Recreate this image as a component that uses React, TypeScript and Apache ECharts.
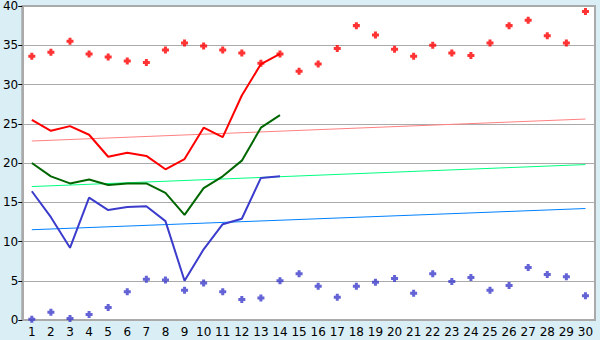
import React, { useEffect, useRef } from "react";
import * as echarts from "echarts";

const categories = Array.from({ length: 30 }, (_, i) => String(i + 1));

const redLine = [25.5, 24.1, 24.7, 23.6, 20.8, 21.3, 20.9, 19.2, 20.5, 24.5, 23.3, 28.6, 32.6, 33.9];
const greenLine = [20.0, 18.3, 17.4, 17.9, 17.2, 17.4, 17.4, 16.2, 13.4, 16.8, 18.3, 20.3, 24.5, 26.1];
const blueLine = [16.4, 13.1, 9.2, 15.6, 14.0, 14.4, 14.5, 12.6, 5.0, 9.0, 12.2, 12.9, 18.1, 18.3];

const redPoints = [33.6, 34.1, 35.5, 33.9, 33.5, 33.0, 32.8, 34.4, 35.3, 34.9, 34.4, 34.0, 32.7, 33.9, 31.7,
  32.6, 34.6, 37.5, 36.3, 34.5, 33.6, 35.0, 34.0, 33.7, 35.3, 37.5, 38.2, 36.2, 35.3, 39.3];
const bluePoints = [0.1, 1.0, 0.2, 0.7, 1.6, 3.6, 5.2, 5.1, 3.8, 4.7, 3.6, 2.6, 2.8, 5.0, 5.9,
  4.3, 2.9, 4.3, 4.8, 5.3, 3.4, 5.9, 4.9, 5.4, 3.8, 4.4, 6.7, 5.8, 5.5, 3.1];

// trend line end values (first and last category)
const redTrend = [22.8, 25.6];
const greenTrend = [17.0, 19.8];
const blueTrend = [11.5, 14.2];

const trendData = (ends: number[]) =>
  categories.map((_, i) => (i === 0 ? ends[0] : i === categories.length - 1 ? ends[1] : null));

const plusSymbol = "path://M2,0H5V2H7V5H5V7H2V5H0V2H2Z";

export default function App() {
  const ref = useRef<HTMLDivElement>(null);
  useEffect(() => {
    document.body.style.margin = "0";
    const chart = echarts.init(ref.current!, null, { renderer: "svg" });
    const lineSeries = (data: number[], color: string) => ({
      type: "line",
      data,
      symbol: "none",
      lineStyle: { color, width: 2 },
      itemStyle: { color },
      z: 3,
    });
    const trendSeries = (ends: number[], color: string) => ({
      type: "line",
      data: trendData(ends),
      connectNulls: true,
      symbol: "none",
      lineStyle: { color, width: 1 },
      itemStyle: { color },
      z: 2,
    });
    const scatterSeries = (data: number[], color: string) => ({
      type: "scatter",
      data,
      symbol: plusSymbol,
      symbolSize: 7,
      itemStyle: { color },
      z: 4,
    });
    chart.setOption({
      animation: false,
      backgroundColor: "#D9EEF5",
      textStyle: { fontFamily: "DejaVu Sans" },
      grid: {
        left: 20,
        right: 5,
        top: 5,
        bottom: 20,
        show: true,
        backgroundColor: "#FFFFFF",
        borderColor: "#AAAAAA",
        borderWidth: 2,
      },
      xAxis: {
        type: "category",
        data: categories,
        boundaryGap: true,
        axisLine: { lineStyle: { color: "#AAAAAA", width: 2 } },
        axisTick: { alignWithLabel: true, length: 5, lineStyle: { color: "#000000" } },
        axisLabel: { color: "#000000", fontSize: 12, margin: 6, interval: 0 },
        splitLine: { show: false },
      },
      yAxis: {
        type: "value",
        min: 0,
        max: 40,
        interval: 5,
        axisLine: { show: true, lineStyle: { color: "#AAAAAA", width: 2 } },
        axisTick: { show: true, length: 4, lineStyle: { color: "#000000" } },
        axisLabel: { color: "#000000", fontSize: 12, margin: 4 },
        splitLine: { lineStyle: { color: "#AAAAAA", width: 1 } },
      },
      series: [
        trendSeries(redTrend, "#FF8080"),
        trendSeries(greenTrend, "#00FF80"),
        trendSeries(blueTrend, "#0080FF"),
        lineSeries(redLine, "#FF0000"),
        lineSeries(greenLine, "#006600"),
        lineSeries(blueLine, "#3C3CCC"),
        scatterSeries(redPoints, "#FF0000"),
        scatterSeries(bluePoints, "#3C3CCC"),
      ],
    });
    return () => chart.dispose();
  }, []);
  return <div ref={ref} style={{ position: "absolute", left: 0, top: 0, width: 600, height: 340 }} />;
}
